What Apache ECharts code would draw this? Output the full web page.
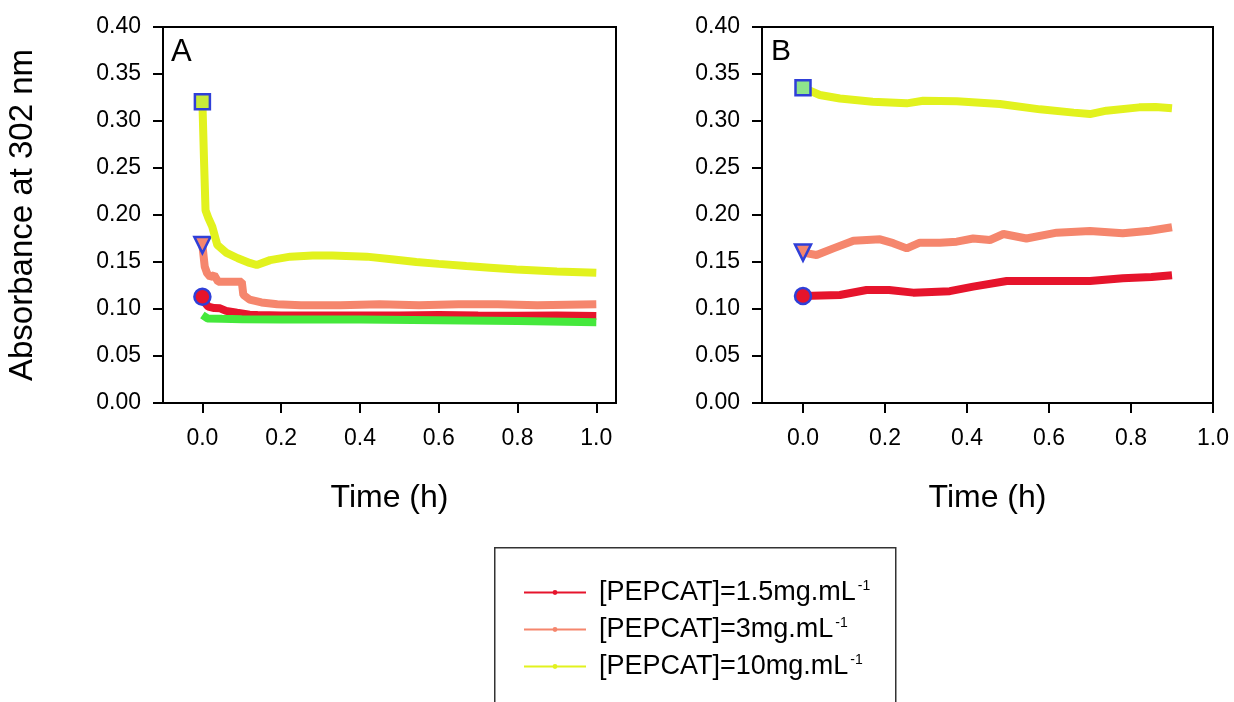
<!DOCTYPE html>
<html>
<head>
<meta charset="utf-8">
<script src="https://cdn.jsdelivr.net/npm/echarts@6/dist/echarts.min.js"></script>
<style>html,body{margin:0;padding:0;background:#fff}#c{width:1234px;height:702px}</style>
</head>
<body>
<div id="c"></div>
<script>
// ---------- data ----------
var seriesNames = ['[PEPCAT]=1.5mg.mL', '[PEPCAT]=3mg.mL', '[PEPCAT]=10mg.mL'];
var xTicks = [0, 0.2, 0.4, 0.6, 0.8, 1.0];

// Panel A
var aRedT = [0, 0.008, 0.015, 0.03, 0.045, 0.06, 0.088, 0.12, 0.14, 0.2, 0.3, 0.4, 0.5, 0.6, 0.7, 0.8, 0.9, 1.0];
var aRedY = [0.113, 0.106, 0.1025, 0.101, 0.1007, 0.098, 0.096, 0.094, 0.0936, 0.093, 0.093, 0.0932, 0.093, 0.0935, 0.093, 0.0928, 0.093, 0.0926];
var aSalT = [0, 0.006, 0.012, 0.02, 0.03, 0.04, 0.07, 0.1, 0.104, 0.12, 0.15, 0.19, 0.25, 0.35, 0.45, 0.55, 0.65, 0.75, 0.85, 1.0];
var aSalY = [0.168, 0.145, 0.138, 0.134, 0.136, 0.129, 0.129, 0.129, 0.115, 0.110, 0.107, 0.105, 0.104, 0.104, 0.105, 0.104, 0.105, 0.105, 0.104, 0.105];
var aYelT = [0, 0.004, 0.008, 0.015, 0.025, 0.038, 0.06, 0.09, 0.12, 0.138, 0.172, 0.223, 0.28, 0.33, 0.417, 0.48, 0.543, 0.6, 0.67, 0.73, 0.797, 0.9, 1.0];
var aYelY = [0.3205, 0.26, 0.205, 0.197, 0.1876, 0.168, 0.16, 0.154, 0.149, 0.1468, 0.152, 0.1557, 0.157, 0.157, 0.1557, 0.153, 0.150, 0.148, 0.1457, 0.144, 0.142, 0.140, 0.1386];
var aGrnT = [0, 0.013, 0.05, 0.1, 0.2, 0.4, 0.6, 0.8, 1.0];
var aGrnY = [0.0936, 0.090, 0.0895, 0.089, 0.0888, 0.0887, 0.088, 0.0872, 0.086];

// Panel B
var bRedT = [0, 0.09, 0.155, 0.21, 0.269, 0.358, 0.415, 0.497, 0.578, 0.70, 0.78, 0.85, 0.9];
var bRedY = [0.1138, 0.1149, 0.1202, 0.1202, 0.1174, 0.119, 0.1238, 0.1298, 0.1298, 0.1298, 0.1326, 0.134, 0.136];
var bSalT = [0, 0.033, 0.074, 0.123, 0.188, 0.22, 0.253, 0.285, 0.334, 0.375, 0.415, 0.456, 0.489, 0.545, 0.619, 0.70, 0.78, 0.846, 0.9];
var bSalY = [0.160, 0.1574, 0.1645, 0.1727, 0.1741, 0.170, 0.1645, 0.1706, 0.1706, 0.1716, 0.175, 0.1734, 0.1798, 0.175, 0.1812, 0.183, 0.1805, 0.1833, 0.187];
var bYelT = [0, 0.041, 0.09, 0.17, 0.253, 0.293, 0.375, 0.48, 0.578, 0.66, 0.70, 0.74, 0.82, 0.86, 0.9];
var bYelY = [0.3355, 0.3277, 0.324, 0.3205, 0.3188, 0.3216, 0.321, 0.318, 0.3124, 0.3089, 0.3074, 0.311, 0.3145, 0.315, 0.3135];

// ---------- styling ----------
var C_RED = '#e6142c', C_SAL = '#f5866d', C_YEL = '#e2f21e', C_GRN = '#45e83c', C_BLUE = '#2f3fd8';
var FONT = 'Liberation Sans, Arial, sans-serif';

function pts(t, y, sym, size, fill, rot) {
  return t.map(function (v, i) {
    if (i === 0 && sym) {
      return { value: [v, y[i]], symbol: sym, symbolSize: size, symbolRotate: rot || 0,
        itemStyle: { color: fill, borderColor: C_BLUE, borderWidth: 2.5 } };
    }
    return [v, y[i]];
  });
}

function lineSeries(name, idx, t, y, color, sym, size, fill, z, rot) {
  return {
    type: 'line', name: name, xAxisIndex: idx, yAxisIndex: idx,
    data: pts(t, y, sym, size, fill, rot), symbol: 'none', showSymbol: true,
    lineStyle: { color: color, width: 8 }, itemStyle: { color: color },
    emphasis: { disabled: true }, z: z, animation: false
  };
}

function xAxis(idx, max) {
  return {
    type: 'value', gridIndex: idx, min: -0.1, max: max,
    axisLine: { onZero: false, lineStyle: { color: '#000', width: 2 } },
    axisTick: { show: true, length: 10, inside: false, customValues: xTicks, lineStyle: { color: '#000', width: 2 } },
    axisLabel: { customValues: xTicks, margin: 24, fontSize: 23, color: '#000', fontFamily: FONT,
      formatter: function (v) { return v.toFixed(1); } },
    splitLine: { show: false },
    name: 'Time (h)', nameLocation: 'middle', nameGap: 79,
    nameTextStyle: { fontSize: 32, color: '#000', fontFamily: FONT }
  };
}

function yAxis(idx, withName) {
  return {
    type: 'value', gridIndex: idx, min: 0, max: 0.4, interval: 0.05,
    axisLine: { show: true, onZero: false, lineStyle: { color: '#000', width: 2 } },
    axisTick: { show: true, length: 10, lineStyle: { color: '#000', width: 2 } },
    axisLabel: { margin: 22, fontSize: 23, color: '#000', fontFamily: FONT,
      formatter: function (v) { return v.toFixed(2); } },
    splitLine: { show: false },
    name: withName ? 'Absorbance at 302 nm' : '', nameLocation: 'middle', nameGap: 124, nameRotate: 90,
    nameTextStyle: { fontSize: 33, color: '#000', fontFamily: FONT }
  };
}

var chart = echarts.init(document.getElementById('c'), null, { renderer: 'canvas' });
chart.setOption({
  backgroundColor: '#fff',
  animation: false,
  grid: [
    { left: 163, top: 27, width: 453, height: 376, show: true, borderColor: '#000', borderWidth: 2, backgroundColor: 'transparent' },
    { left: 762, top: 27, width: 451, height: 376, show: true, borderColor: '#000', borderWidth: 2, backgroundColor: 'transparent' }
  ],
  xAxis: [xAxis(0, 1.05), xAxis(1, 1.0)],
  yAxis: [yAxis(0, true), yAxis(1, false)],
  legend: {
    data: seriesNames, orient: 'vertical', left: 523, top: 579, padding: 0,
    itemWidth: 62, itemHeight: 6, itemGap: 10,
    lineStyle: { width: 2 },
    formatter: function (n) { return '{t|' + n + '}{s|-1}'; },
    textStyle: {
      color: '#000', fontFamily: FONT, fontSize: 27,
      rich: {
        t: { fontSize: 27, fontFamily: FONT, color: '#000', lineHeight: 26, padding: [0, 0, 0, 8] },
        s: { fontSize: 14, fontFamily: FONT, color: '#000', verticalAlign: 'top', lineHeight: 14, padding: [0, 0, 12, 2] }
      }
    },
    selectedMode: false
  },
  graphic: [
    { type: 'rect', left: 494, top: 547, shape: { width: 401, height: 170 },
      style: { fill: 'transparent', stroke: '#333', lineWidth: 1.5 }, z: 0 },
    { type: 'text', left: 171, top: 37, style: { text: 'A', fontSize: 31, fontFamily: FONT, fill: '#000' } },
    { type: 'text', left: 771, top: 37, style: { text: 'B', fontSize: 30, fontFamily: FONT, fill: '#000' } }
  ],
  series: [
    lineSeries(seriesNames[0], 0, aRedT, aRedY, C_RED, 'circle', 16, C_RED, 3),
    lineSeries(seriesNames[1], 0, aSalT, aSalY, C_SAL, 'triangle', 16, C_SAL, 3, 180),
    lineSeries(seriesNames[2], 0, aYelT, aYelY, C_YEL, 'rect', 15, '#c8ea3a', 4),
    lineSeries('green', 0, aGrnT, aGrnY, C_GRN, null, 0, C_GRN, 4),
    lineSeries(seriesNames[0], 1, bRedT, bRedY, C_RED, 'circle', 16, C_RED, 3),
    lineSeries(seriesNames[1], 1, bSalT, bSalY, C_SAL, 'triangle', 16, C_SAL, 3, 180),
    lineSeries(seriesNames[2], 1, bYelT, bYelY, C_YEL, 'rect', 15, '#8fe48c', 3)
  ]
});
</script>
</body>
</html>
